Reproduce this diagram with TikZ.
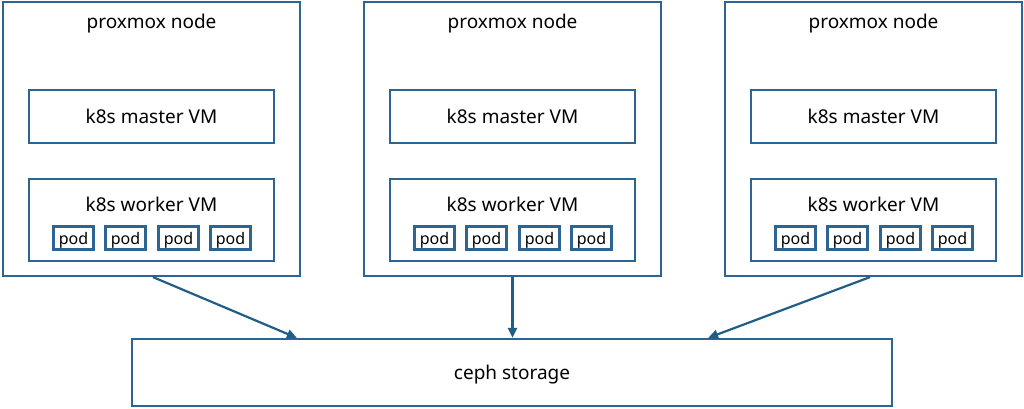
\documentclass[tikz,border=0pt]{standalone}
\usepackage{fontspec}
\setmainfont{Noto Sans}
\usetikzlibrary{arrows.meta}
\definecolor{boxblue}{RGB}{44,100,148}
\definecolor{arrblue}{RGB}{32,94,134}
\tikzset{
  hostbox/.style={draw=boxblue, line width=2.2pt, minimum width=297pt, minimum height=274pt, inner sep=0pt},
  vmbox/.style={draw=boxblue, line width=2.2pt, minimum width=245pt, minimum height=53pt, inner sep=0pt, text depth=0pt, font=\fontsize{19}{22}\selectfont},
  workerbox/.style={draw=boxblue, line width=2.2pt, minimum width=245pt, minimum height=82pt, inner sep=0pt},
  podbox/.style={draw=boxblue, line width=3pt, minimum width=40pt, minimum height=23pt, inner sep=0pt, text depth=0pt, font=\fontsize{16}{18}\selectfont},
  lbl/.style={inner sep=0pt, yshift=-2pt, font=\fontsize{19}{22}\selectfont},
  storebox/.style={draw=boxblue, line width=2.2pt, minimum width=760pt, minimum height=67pt, inner sep=0pt, text depth=0pt, font=\fontsize{19}{22}\selectfont},
  link/.style={draw=arrblue, line width=2.2pt, -{Triangle[length=10pt,width=9pt]}}
}
\begin{document}
\begin{tikzpicture}[x=1pt,y=-1pt]
\useasboundingbox (0,0) rectangle (1024,408);
\foreach \i/\cx in {1/151.5, 2/512.5, 3/873.5}{
  \node[hostbox] (n\i) at (\cx,139) {};
  \node[lbl] (t\i) at (\cx,22) {proxmox node};
  \node[vmbox] (m\i) at (\cx,116.5) {k8s master VM};
  \node[workerbox] (w\i) at (\cx,220) {};
  \node[lbl] (wl\i) at (\cx,202) {k8s worker VM};
  \node[podbox] (p\i a) at (\cx-78,238) {pod};
  \node[podbox] (p\i b) at (\cx-26,238) {pod};
  \node[podbox] (p\i c) at (\cx+27,238) {pod};
  \node[podbox] (p\i d) at (\cx+79,238) {pod};
}
\node[storebox] (ceph) at (512,372.5) {ceph storage};
\draw[link] ([xshift=1.5pt]n1.south) -- ([xshift=166pt]ceph.north west);
\draw[link] (n2.south) -- (ceph.north -| n2.south);
\draw[link] ([xshift=-3.5pt]n3.south) -- ([xshift=-185pt]ceph.north east);
\end{tikzpicture}
\end{document}
